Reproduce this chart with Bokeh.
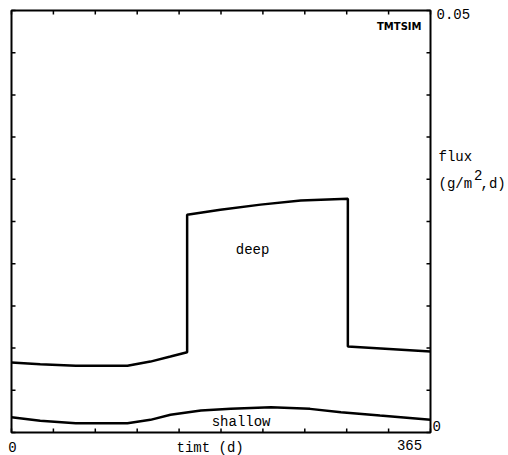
import math
from bokeh.plotting import figure
from bokeh.models import Range1d, Label
from bokeh.embed import file_html
from bokeh.resources import INLINE

# ---- data ----
deep_days = [0, 25, 56, 101, 121, 138.5, 153, 153, 182, 217, 252, 293, 293, 365]
deep_flux = [0.0083, 0.0081, 0.0079, 0.0079, 0.0084, 0.0090, 0.0095,
             0.0258, 0.0264, 0.0270, 0.0275, 0.0277, 0.0102, 0.0096]

shallow_days = [0, 25, 56, 101, 121, 138.5, 165, 191, 226, 260, 287, 321, 365]
shallow_flux = [0.0018, 0.0014, 0.0011, 0.0011, 0.0015, 0.0021, 0.0026,
                0.0028, 0.0030, 0.0028, 0.0024, 0.0020, 0.0015]

x_ticks = [0, 36.5, 73, 109.5, 146, 182.5, 219, 255.5, 292, 328.5, 365]
y_ticks = [0, 0.005, 0.01, 0.015, 0.02, 0.025, 0.03, 0.035, 0.04, 0.045, 0.05]
x_tick_labels = ["0", "365"]
y_tick_labels = ["0", "0.05"]
x_title = "timt (d)"
y_title = ["flux", "(g/m", "2", ",d)"]
series_names = ["deep", "shallow"]
tag = "TMTSIM"

# ---- layout (pixels) ----
W, H = 508, 455
BOX_L, BOX_R, BOX_T, BOX_B = 11, 430, 10, 432
FONT = "Liberation Mono"
FS = "14px"

x0, x1 = x_ticks[0], x_ticks[-1]
y0, y1 = y_ticks[0], y_ticks[-1]
xpp = (x1 - x0) / (BOX_R - BOX_L)
ypp = (y1 - y0) / (BOX_B - BOX_T)

p = figure(width=W, height=H, output_backend="svg", toolbar_location=None,
           x_range=Range1d(x0 - BOX_L * xpp, x1 + (W - BOX_R) * xpp),
           y_range=Range1d(y0 - (H - BOX_B) * ypp, y1 + BOX_T * ypp),
           x_axis_location=None, y_axis_location=None, min_border=0)
p.grid.visible = False
p.outline_line_color = None
p.background_fill_color = "white"
p.border_fill_color = "white"

# plot box
p.quad(left=[x0], right=[x1], bottom=[y0], top=[y1],
       fill_color=None, line_color="black", line_width=2)

# inward ticks on all four sides
TL = 4
p.ray(x=x_ticks, y=[y0] * len(x_ticks), length=TL, length_units="screen",
      angle=math.pi / 2, line_color="black", line_width=1.5)
p.ray(x=x_ticks, y=[y1] * len(x_ticks), length=TL, length_units="screen",
      angle=-math.pi / 2, line_color="black", line_width=1.5)
p.ray(x=[x0] * len(y_ticks), y=y_ticks, length=TL, length_units="screen",
      angle=0, line_color="black", line_width=1.5)
p.ray(x=[x1] * len(y_ticks), y=y_ticks, length=TL, length_units="screen",
      angle=math.pi, line_color="black", line_width=1.5)

# series
p.line(deep_days, deep_flux, line_color="black", line_width=2.5)
p.line(shallow_days, shallow_flux, line_color="black", line_width=2.5)


def lab(x, y, text, xo=0, yo=0, align="left", font=FONT, size=FS, style="normal"):
    p.add_layout(Label(x=x, y=y, text=text, x_offset=xo, y_offset=yo,
                       text_align=align, text_baseline="middle",
                       text_font=font, text_font_size=size,
                       text_font_style=style, text_color="black"))


# series labels
lab(210, 0.0216, series_names[0], align="center")
lab(200, 0.0013, series_names[1], align="center")

# tick labels
lab(x0, y0, x_tick_labels[0], xo=1, yo=-14, align="center")
lab(x1, y0, x_tick_labels[1], xo=-21, yo=-12, align="center")
lab(x1, y0, y_tick_labels[0], xo=2, yo=7, align="left")
lab(x1, y1, y_tick_labels[1], xo=6, yo=-3, align="left")

# axis titles
lab(173, y0, x_title, yo=-15, align="center")
lab(x1, 0.0326, y_title[0], xo=8, align="left")
lab(x1, 0.0295, y_title[1], xo=8, align="left")
lab(x1, 0.0295, y_title[2], xo=8 + 4 * 8.4 + 2, yo=9, align="left")
lab(x1, 0.0295, y_title[3], xo=8 + 5 * 8.4, align="left")

# tag
lab(x1, y1, tag, xo=-9, yo=-16, align="right", font="DejaVu Sans",
    size="10px", style="bold")

open("out.html", "w").write(file_html(p, INLINE))
